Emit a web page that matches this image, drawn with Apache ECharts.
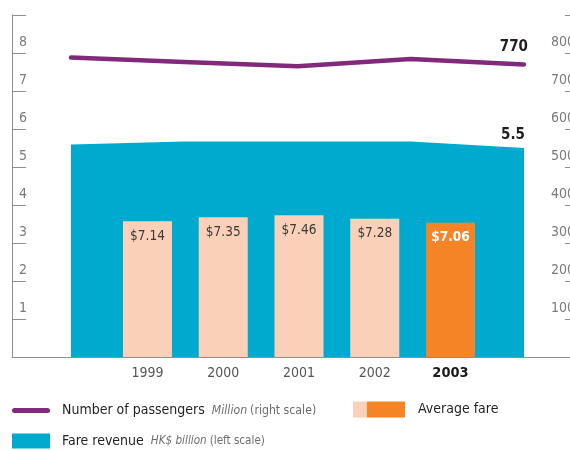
<!DOCTYPE html>
<html><head><meta charset="utf-8">
<script src="https://cdn.jsdelivr.net/npm/echarts@6/dist/echarts.min.js"></script>
<style>html,body{margin:0;padding:0;background:#fff}#c{width:570px;height:450px}</style>
</head><body><div id="c"></div>
<script>
// ---- data ----
const years = ['1999', '2000', '2001', '2002', '2003'];
const passengers = [788, 776, 765, 784, 770];        // million (right scale)
const fareRevenue = [5.59, 5.67, 5.67, 5.67, 5.5];    // HK$ billion (left scale)
const averageFare = [7.14, 7.35, 7.46, 7.28, 7.06];   // HK$
const leftTicks = [1, 2, 3, 4, 5, 6, 7, 8];
const rightTicks = [100, 200, 300, 400, 500, 600, 700, 800];

const FONT = '"Liberation Sans Narrow", "DejaVu Sans Condensed", "Arial Narrow", sans-serif';
const PURPLE = '#812a7c', CYAN = '#00aacf', PEACH = '#fad1b8', ORANGE = '#f58426';
const AXIS = '#8f8f8f', TICKTXT = '#7a7a7a', INK = '#231f20', SUB = '#6d6e71';
const CLEAR = 'rgba(0,0,0,0)';
const last = years.length - 1;

const chart = echarts.init(document.getElementById('c'), null, {renderer: 'canvas'});
const gTop = 15, gBottom = 93;

function legendRich(subSize) {
  return {
    a: {fontSize: 14, color: INK, fontFamily: FONT, padding: [0, 0, 0, 7], lineHeight: 20},
    i: {fontSize: subSize, color: SUB, fontStyle: 'italic', fontFamily: FONT, padding: [0, 3, 0, 7], lineHeight: 20},
    g: {fontSize: subSize, color: SUB, fontFamily: FONT, lineHeight: 20}
  };
}

chart.setOption({
  animation: false,
  textStyle: {fontFamily: FONT},
  grid: [
    {left: 71, right: 46, top: gTop, bottom: gBottom, outerBoundsMode: 'none', containLabel: false},      // area + line
    {left: 109.6, right: 81.6, top: gTop, bottom: gBottom, outerBoundsMode: 'none', containLabel: false},  // bars
    {left: 12, right: 0, top: gTop, bottom: gBottom, outerBoundsMode: 'none', containLabel: false}         // frame axes
  ],
  xAxis: [
    {gridIndex: 0, type: 'category', data: years, boundaryGap: false, show: false},
    {gridIndex: 1, type: 'category', data: years, boundaryGap: true,
      axisLine: {show: false}, axisTick: {show: false},
      axisLabel: {margin: 9, fontFamily: FONT,
        formatter: v => v === years[last] ? '{b|' + v + '}' : '{a|' + v + '}',
        rich: {a: {fontSize: 14, color: '#555', fontFamily: FONT},
               b: {fontSize: 14.5, color: '#1a1a1a', fontWeight: 'bold', fontFamily: FONT}}}},
    {gridIndex: 2, type: 'value', min: 0, max: 1,
      axisLine: {show: true, lineStyle: {color: AXIS, width: 1}},
      axisTick: {show: false}, axisLabel: {show: false}, splitLine: {show: false}}
  ],
  yAxis: [
    {gridIndex: 0, type: 'value', min: 0, max: 9, show: false},
    {gridIndex: 0, type: 'value', min: 0, max: 900, show: false},
    {gridIndex: 1, type: 'value', min: 0, max: 18, show: false},
    {gridIndex: 2, type: 'value', position: 'left', min: 0, max: 9, interval: 1,
      axisLine: {show: true, lineStyle: {color: AXIS, width: 1}},
      axisTick: {show: true, inside: true, length: 14, lineStyle: {color: AXIS}},
      splitLine: {show: false},
      axisLabel: {inside: true, margin: 7, color: TICKTXT, fontSize: 14, fontFamily: FONT,
        align: 'left', verticalAlign: 'bottom', padding: [0, 0, 4, 0],
        formatter: v => leftTicks.includes(v) ? String(v) : ''}},
    {gridIndex: 2, type: 'value', position: 'right', min: 0, max: 900, interval: 100,
      axisLine: {show: false},
      axisTick: {show: true, inside: true, length: 5, lineStyle: {color: AXIS}},
      splitLine: {show: false},
      axisLabel: {inside: true, margin: 19, color: TICKTXT, fontSize: 14, fontFamily: FONT,
        align: 'left', verticalAlign: 'bottom', padding: [0, 0, 4, 0],
        formatter: v => rightTicks.includes(v) ? String(v) : ''}}
  ],
  legend: [
    {left: 12, top: 403.5, padding: 0, orient: 'horizontal', itemWidth: 38, itemHeight: 5, selectedMode: false,
      data: [{name: 'Number of passengers',
        icon: 'path://M2.5,0 L35.5,0 A2.5,2.5 0 0 1 35.5,5 L2.5,5 A2.5,2.5 0 0 1 2.5,0 Z',
        itemStyle: {color: PURPLE, borderWidth: 0, opacity: 1}}],
      formatter: n => '{a|' + n + '}{i|Million}{g|(right scale)}',
      textStyle: {fontFamily: FONT, rich: legendRich(12.2)}},
    {left: 12, top: 433.5, padding: 0, orient: 'horizontal', itemWidth: 38, itemHeight: 15, selectedMode: false,
      data: [{name: 'Fare revenue', icon: 'rect', itemStyle: {color: CYAN, borderWidth: 0, opacity: 1}}],
      formatter: n => '{a|' + n + '}{i|HK$ billion}{g|(left scale)}',
      textStyle: {fontFamily: FONT, rich: legendRich(11.6)}},
    {left: 353, top: 401.5, padding: 0, orient: 'horizontal', itemWidth: 52, itemHeight: 16, selectedMode: false,
      data: [{name: 'Average fare', icon: 'rect',
        itemStyle: {borderWidth: 0, opacity: 1, color: {type: 'linear', x: 0, y: 0, x2: 1, y2: 0, colorStops: [
          {offset: 0, color: PEACH}, {offset: 0.27, color: PEACH},
          {offset: 0.27, color: ORANGE}, {offset: 1, color: ORANGE}]}}}],
      formatter: n => '{a|' + n + '}',
      textStyle: {fontFamily: FONT, rich: {
        a: {fontSize: 14, color: INK, fontFamily: FONT, padding: [0, 0, 0, 8], lineHeight: 20}}}}
  ],
  series: [
    {name: 'Fare revenue', type: 'line', xAxisIndex: 0, yAxisIndex: 0, z: 1,
      data: fareRevenue.map((v, i) => i === last ? {value: v, label: {show: true}} : v),
      symbol: 'circle', symbolSize: 1, showSymbol: true,
      itemStyle: {color: CLEAR, borderWidth: 0},
      lineStyle: {width: 0, color: CYAN},
      areaStyle: {color: CYAN, opacity: 1},
      label: {show: false, position: 'top', align: 'right', distance: 5, offset: [1, 0],
        color: INK, fontWeight: 'bold', fontSize: 15, fontFamily: FONT,
        formatter: p => String(p.value)}},
    {name: 'Average fare', type: 'bar', xAxisIndex: 1, yAxisIndex: 2, z: 2,
      data: averageFare, barWidth: 49,
      itemStyle: {color: p => p.dataIndex === last ? ORANGE : PEACH},
      label: {show: true, position: 'insideTop', distance: 8, fontFamily: FONT,
        formatter: p => (p.dataIndex === last ? '{h|' : '{n|') + '$' + p.value.toFixed(2) + '}',
        rich: {n: {fontSize: 13.5, color: '#3a3a3a', fontFamily: FONT},
               h: {fontSize: 13.5, color: '#ffffff', fontWeight: 'bold', fontFamily: FONT}}}},
    {name: 'Number of passengers', type: 'line', xAxisIndex: 0, yAxisIndex: 1, z: 3,
      data: passengers.map((v, i) => i === last ? {value: v, label: {show: true}} : v),
      symbol: 'circle', symbolSize: 1, showSymbol: true,
      itemStyle: {color: CLEAR, borderWidth: 0},
      lineStyle: {color: PURPLE, width: 4.5, cap: 'round', join: 'round'},
      label: {show: false, position: 'top', align: 'right', distance: 9, offset: [4, 0],
        color: INK, fontWeight: 'bold', fontSize: 15, fontFamily: FONT,
        formatter: p => String(p.value)}}
  ]
});
</script></body></html>
